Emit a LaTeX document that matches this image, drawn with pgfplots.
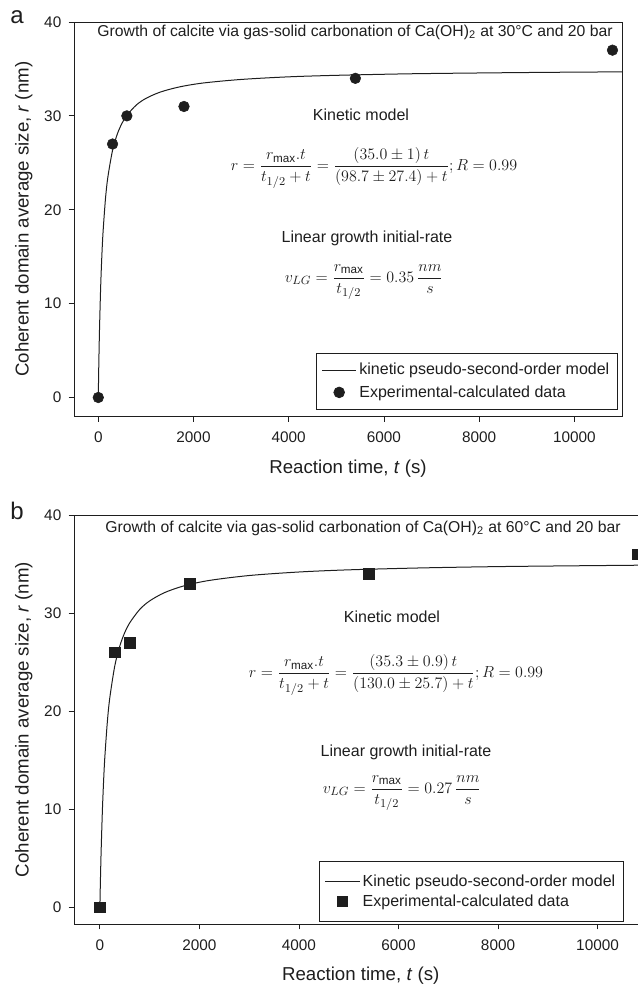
\documentclass[border=0pt]{standalone}
\usepackage{amsmath}
\usepackage{fontspec}
\setmainfont{Liberation Sans}
\usepackage{pgfplots}
\pgfplotsset{compat=1.18}
\definecolor{ink}{RGB}{30,30,30}

\pgfplotsset{
  panel/.style={
    scale only axis, anchor=north west,
    axis line style={line width=0.6pt, ink},
    tick align=outside, xtick pos=bottom, ytick pos=left,
    major tick length=4pt,
    tick style={line width=0.6pt, ink},
    xtick={0,2000,...,10000}, ytick={0,10,...,40},
    scaled x ticks=false,
    /pgf/number format/assume math mode=true,
    /pgf/number format/set thousands separator={},
    ticklabel style={font=\fontsize{11.5}{13}\selectfont, text=ink},
    xticklabel style={yshift=-4pt},
    yticklabel style={xshift=-2pt},
    label style={font=\fontsize{14}{16}\selectfont, text=ink},
    xlabel={Reaction time, \textit{t} (s)},
    ylabel={Coherent domain average size, \textit{r} (nm)},
    xlabel style={yshift=-6pt},
    ylabel style={yshift=2pt},
    legend cell align=left,
    legend style={font=\fontsize{12}{14}\selectfont, draw=ink, line width=0.6pt,
      text=ink, inner xsep=4pt},
  },
  fit/.style={ink, line width=0.75pt, no markers, smooth,
    legend image code/.code={\draw[##1] (-0.05cm,0cm) -- (0.85cm,0cm);}},
  pts/.style={only marks, ink,
    legend image code/.code={\draw[##1] plot coordinates {(0.4cm,0cm)};}},
}

\begin{document}
\begin{tikzpicture}
\path[use as bounding box] (0,0) rectangle (478.5pt,-747pt);

% ---- panel a ----
\begin{axis}[panel, at={(55.5pt,-16.5pt)},
    width=411pt, height=295.7pt,
    xmin=-510, xmax=11000, ymin=-2, ymax=40,
    legend style={at={(1,0)}, anchor=south east, xshift=-3.2pt, yshift=5pt,
      inner ysep=5.5pt, row sep=2.5pt}]
\addplot[fit] coordinates {
 (0,0) (10,3.22) (25,7.07) (50,11.77) (75,15.11) (100,17.61) (150,21.11)
 (200,23.43) (300,26.34) (400,28.07) (500,29.23) (600,30.06) (800,31.16)
 (1000,31.86) (1300,32.53) (1700,33.08) (2200,33.50) (3000,33.88)
 (4000,34.16) (5000,34.32) (6500,34.48) (8000,34.57) (9500,34.64) (11000,34.69)};
\addlegendentry{kinetic pseudo-second-order model}
\addplot[pts, mark=*, mark size=4pt] coordinates {
 (0,0) (300,27) (600,30) (1800,31) (5400,34) (10800,37)};
\addlegendentry{Experimental-calculated data}
\end{axis}

% ---- panel b ----
\begin{axis}[panel, at={(55.5pt,-386.25pt)},
    width=430pt, height=306.75pt,
    xmin=-520, xmax=11000, ymin=-1.7, ymax=40,
    legend style={at={(0.4276,0)}, anchor=south west, yshift=1.5pt,
      inner ysep=8pt, row sep=1pt}]
\addplot[fit] coordinates {
 (0,0) (10,2.52) (25,5.69) (50,9.81) (75,12.91) (100,15.35) (150,18.91)
 (200,21.39) (300,24.63) (400,26.64) (500,28.02) (600,29.01) (800,30.37)
 (1000,31.24) (1300,32.09) (1700,32.79) (2200,33.33) (3000,33.83)
 (4000,34.19) (5000,34.41) (6500,34.61) (8000,34.74) (9500,34.82) (11000,34.89)};
\addlegendentry{Kinetic pseudo-second-order model}
\addplot[pts, mark=square*, mark size=4pt] coordinates {
 (0,0) (300,26) (600,27) (1800,33) (5400,34) (10800,36)};
\addlegendentry{Experimental-calculated data}
\end{axis}

% ---- annotations (pixel grid, origin top left) ----
\begin{scope}[x=0.75pt, y=-0.75pt, text=ink]
\node[font=\fontsize{18}{18}\selectfont] at (17,17) {a};
\node[font=\fontsize{18}{18}\selectfont] at (17,511) {b};

\node[font=\fontsize{11.8}{13}\selectfont] at (355,32)
  {Growth of calcite via gas-solid carbonation of Ca(OH)\textsubscript{2} at 30°C and 20 bar};
\node[font=\fontsize{12}{14}\selectfont] at (361,115) {Kinetic model};
\node[font=\fontsize{12.5}{14}\selectfont] at (374,168)
  {$r=\dfrac{r_{\max}.t}{t_{1/2}+t}=\dfrac{\left(35.0\pm1\right)t}{\left(98.7\pm27.4\right)+t};R=0.99$};
\node[font=\fontsize{12}{14}\selectfont] at (367,238) {Linear growth initial-rate};
\node[font=\fontsize{12.5}{14}\selectfont] at (364,282)
  {$v_{LG}=\dfrac{r_{\max}}{t_{1/2}}=0.35\,\dfrac{nm}{s}$};

\node[font=\fontsize{11.8}{13}\selectfont] at (363,528)
  {Growth of calcite via gas-solid carbonation of Ca(OH)\textsubscript{2} at 60°C and 20 bar};
\node[font=\fontsize{12}{14}\selectfont] at (392,617) {Kinetic model};
\node[font=\fontsize{12.5}{14}\selectfont] at (396,675)
  {$r=\dfrac{r_{\max}.t}{t_{1/2}+t}=\dfrac{\left(35.3\pm0.9\right)t}{\left(130.0\pm25.7\right)+t};R=0.99$};
\node[font=\fontsize{12}{14}\selectfont] at (406,752) {Linear growth initial-rate};
\node[font=\fontsize{12.5}{14}\selectfont] at (402,793)
  {$v_{LG}=\dfrac{r_{\max}}{t_{1/2}}=0.27\,\dfrac{nm}{s}$};
\end{scope}
\end{tikzpicture}
\end{document}
